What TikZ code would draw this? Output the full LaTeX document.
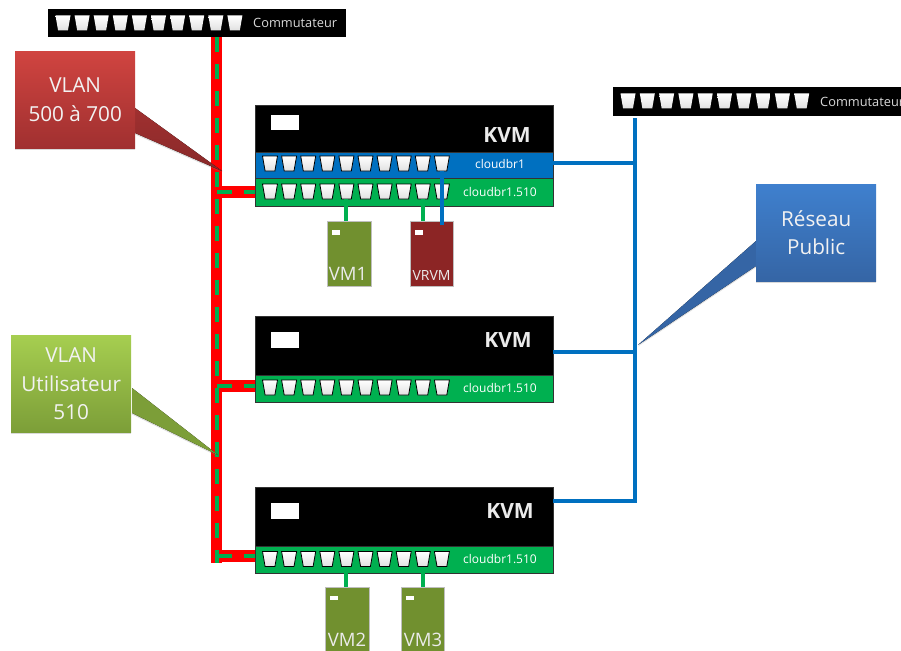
\documentclass[tikz,border=0pt]{standalone}
\usepackage{fontspec}
\setmainfont{Open Sans}
\usetikzlibrary{shadows,calc}
\definecolor{pblue}{HTML}{0070C0}
\definecolor{pgreen}{HTML}{00B050}
\definecolor{vmgreen}{HTML}{71902F}
\definecolor{vmred}{HTML}{8C2525}
\definecolor{rtop}{HTML}{D04440}
\definecolor{rbot}{HTML}{A03030}
\definecolor{gtop}{HTML}{A6CE50}
\definecolor{gbot}{HTML}{7C9E38}
\definecolor{btop}{HTML}{3F80CE}
\definecolor{bbot}{HTML}{3565A5}
\tikzset{
  box/.style={rectangle,inner sep=0pt,outer sep=0pt,anchor=north west},
  panel/.style={box,draw=black!80,line width=.6pt},
  portnode/.style={rectangle,inner sep=0pt,outer sep=0pt,minimum width=15pt,minimum height=15pt},
  portedge/.style={draw=black,line width=.8pt,top color=white,bottom color=black!12},
  swedge/.style={top color=white,bottom color=black!12},
  lbl/.style={text=white,font=\fontsize{12}{14}\selectfont,inner sep=0pt},
  swlbl/.style={text=white!85!black,font=\fontsize{12.8}{14}\selectfont,inner sep=0pt,anchor=west},
  kvm/.style={text=white!92!black,font=\fontsize{21}{23}\selectfont\bfseries,inner sep=0pt},
  tag/.style={box,fill=white},
  vm/.style={box,draw=white!75!black,line width=.3pt,minimum width=44pt,minimum height=65pt},
  vmtext/.style={text=white!92!black,font=\fontsize{18.5}{20}\selectfont,inner sep=0pt},
  callout/.style={align=center,text=white!95!black,font=\fontsize{20.7}{28.5}\selectfont,inner sep=0pt,
    minimum width=120pt,minimum height=97pt},
  calshadow/.style={drop shadow={opacity=.3,shadow xshift=0pt,shadow yshift=-1.5pt}},
  bus/.style={draw=red,line width=11pt},
  branch/.style={draw=red,line width=12pt},
  vdash/.style={draw=pgreen,line width=4pt,dash pattern=on 15pt off 12pt},
  greenln/.style={draw=pgreen,line width=4pt},
  blueln/.style={draw=pblue,line width=4pt},
}
\newcommand{\portat}[4]{%
  \node[portnode] (#1) at (#2,#3) {};
  \path[#4] (#1.north west) -- (#1.north east) -- ($(#1.south east)+(-2.6,0)$) -- ($(#1.south west)+(2.6,0)$) -- cycle;
}
\begin{document}
\begin{tikzpicture}[x=1pt,y=-1pt]
\useasboundingbox (0,0) rectangle (901,650);
% coordinates of the red trunk and the blue trunk
\coordinate (busTop) at (216.5,37);
\coordinate (busBot) at (216.5,563);
\coordinate (pubTop) at (635,118);
\coordinate (pubBot) at (635,503);
\coordinate (b1) at (255,192);
\coordinate (b2) at (255,386);
\coordinate (b3) at (255,556);
\coordinate (p1) at (553,162.5);
\coordinate (p2) at (553,352);
\coordinate (p3) at (553,501);
% trunks
\draw[bus] (busTop) -- (busBot);
\draw[branch] (busTop |- b1) -- (b1);
\draw[branch] (busTop |- b2) -- (b2);
\draw[branch] (busTop |- b3) -- (b3);
\draw[vdash] (busTop) -- (busBot);
\draw[vdash] (busTop |- b1) -- (b1);
\draw[vdash] (busTop |- b2) -- (b2);
\draw[vdash] (busTop |- b3) -- (b3);
% switch 1
\node[box,fill=black,minimum width=298pt,minimum height=28pt] (sw1) at (48,9) {};
\foreach \i in {1,...,10}{\pgfmathsetmacro\xx{63+(\i-1)*19.1}
  \portat{sa\i}{\xx}{23}{swedge}}
\node[swlbl] (sw1t) at (253,22.5) {Commutateur};
% switch 2
\node[box,fill=black,minimum width=290pt,minimum height=29pt] (sw2) at (613,87) {};
\foreach \i in {1,...,10}{\pgfmathsetmacro\xx{628+(\i-1)*19.3}
  \portat{sb\i}{\xx}{101}{swedge}}
\node[swlbl] (sw2t) at (820,102) {Commutateur};
% KVM 1
\node[panel,fill=black,minimum width=298pt,minimum height=47pt] (k1) at (255,105) {};
\node[panel,fill=pblue,minimum width=298pt,minimum height=26pt] (k1b) at (255,152) {};
\node[panel,fill=pgreen,minimum width=298pt,minimum height=28pt] (k1g) at (255,178) {};
\node[tag,minimum width=28pt,minimum height=15pt] (k1s) at (271,115) {};
\node[kvm] (k1t) at (507,135) {KVM};
\node[lbl] (k1bt) at (500,164) {cloudbr1};
\node[lbl] (k1gt) at (500,192) {cloudbr1.510};
\foreach \i in {1,...,10}{\pgfmathsetmacro\xx{270+(\i-1)*19.1}
  \portat{k1bp\i}{\xx}{163.5}{portedge}
  \portat{k1gp\i}{\xx}{191.5}{portedge}}
% KVM 2
\node[panel,fill=black,minimum width=298pt,minimum height=59pt] (k2) at (255,316) {};
\node[panel,fill=pgreen,minimum width=298pt,minimum height=27pt] (k2g) at (255,375) {};
\node[tag,minimum width=28pt,minimum height=16pt] (k2s) at (271,332) {};
\node[kvm] (k2t) at (508,340) {KVM};
\node[lbl] (k2gt) at (500,388) {cloudbr1.510};
\foreach \i in {1,...,10}{\pgfmathsetmacro\xx{270+(\i-1)*19.1}
  \portat{k2gp\i}{\xx}{387.5}{portedge}}
% KVM 3
\node[panel,fill=black,minimum width=298pt,minimum height=59pt] (k3) at (255,487) {};
\node[panel,fill=pgreen,minimum width=298pt,minimum height=27pt] (k3g) at (255,546) {};
\node[tag,minimum width=28pt,minimum height=16pt] (k3s) at (271,503) {};
\node[kvm] (k3t) at (510,511) {KVM};
\node[lbl] (k3gt) at (500,559) {cloudbr1.510};
\foreach \i in {1,...,10}{\pgfmathsetmacro\xx{270+(\i-1)*19.1}
  \portat{k3gp\i}{\xx}{559}{portedge}}
% VMs
\node[vm,fill=vmgreen] (vm1) at (327,221) {};
\node[vm,fill=vmred,minimum width=43pt] (vr) at (410,221) {};
\node[vm,fill=vmgreen] (vm2) at (325,587) {};
\node[vm,fill=vmgreen,minimum width=43pt] (vm3) at (401,587) {};
\node[tag,minimum width=8pt,minimum height=4.5pt] (vm1s) at (332,230) {};
\node[tag,minimum width=8pt,minimum height=4.5pt] (vrs) at (415,230) {};
\node[tag,minimum width=8pt,minimum height=4.5pt] (vm2s) at (330,595.5) {};
\node[tag,minimum width=8pt,minimum height=4.5pt] (vm3s) at (406,595.5) {};
\node[vmtext] (vm1t) at (348,274) {VM1};
\node[vmtext,font=\fontsize{14}{16}\selectfont] (vrt) at (431.5,275) {VRVM};
\node[vmtext] (vm2t) at (347,640) {VM2};
\node[vmtext] (vm3t) at (423,640) {VM3};
% VM links
\draw[greenln] (k1gp5.south) -- (k1gp5.south |- vm1.north);
\draw[greenln] (k1gp9.south) -- (k1gp9.south |- vr.north);
\draw[blueln] (k1bp10.south) -- ($(k1bp10.south |- vr.north)+(0,4)$);
\draw[greenln] (k3gp5.south) -- (k3gp5.south |- vm2.north);
\draw[greenln] (k3gp9.south) -- (k3gp9.south |- vm3.north);
% public network
\draw[blueln] (pubTop) -- (pubBot);
\draw[blueln] (p1) -- (pubTop |- p1);
\draw[blueln] (p2) -- (pubTop |- p2);
\draw[blueln] (p3) -- (pubTop |- p3);
% callouts
\coordinate (rtip) at (222,171);
\coordinate (gtip) at (218,455);
\coordinate (btip) at (638,345);
\fill[bottom color=rbot!85!black,top color=rbot,drop shadow={opacity=.25,shadow xshift=0pt,shadow yshift=-1.5pt}]
  (135,108) -- (rtip) -- (135,133) -- cycle;
\fill[top color=gbot,bottom color=gbot,drop shadow={opacity=.25,shadow xshift=0pt,shadow yshift=-1.5pt}]
  (132,388) -- (gtip) -- (132,413) -- cycle;
\fill[top color=bbot,bottom color=bbot,drop shadow={opacity=.25,shadow xshift=0pt,shadow yshift=-1.5pt}]
  (756,241) -- (btip) -- (756,266) -- cycle;
\node[callout,calshadow,anchor=north west,top color=rtop,bottom color=rbot] (cr) at (15,51) {VLAN\\500 à 700};
\node[callout,calshadow,anchor=north west,top color=gtop,bottom color=gbot] (cg) at (11,335) {VLAN\\Utilisateur\\510};
\node[callout,calshadow,anchor=north west,top color=btop,bottom color=bbot] (cb) at (756,184) {Réseau\\Public};
\end{tikzpicture}
\end{document}
